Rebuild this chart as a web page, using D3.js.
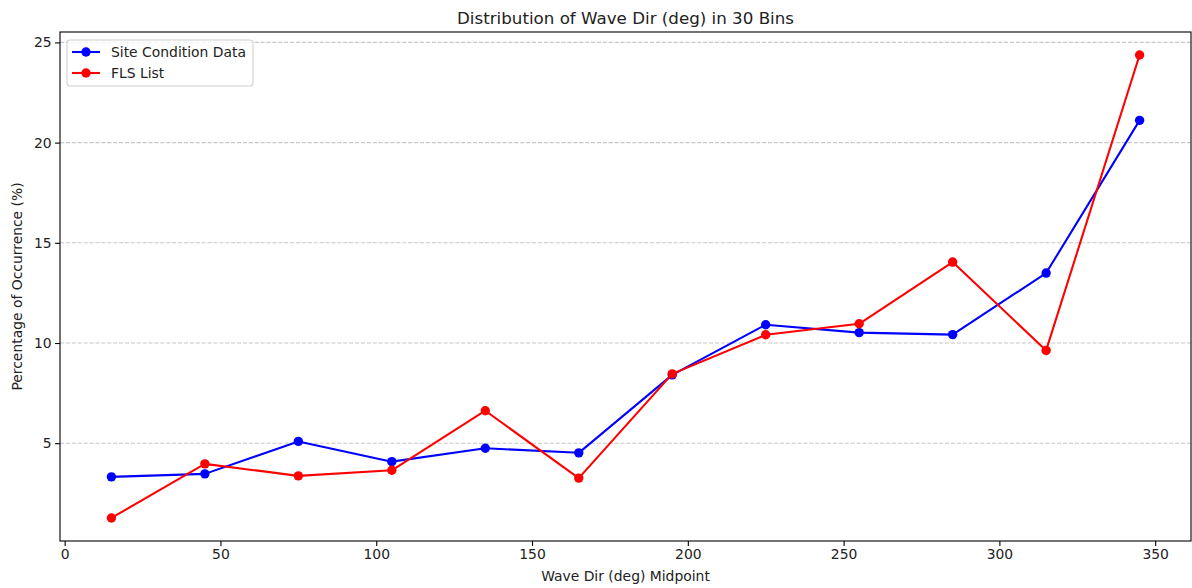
<!DOCTYPE html>
<html>
<head>
<meta charset="utf-8">
<script src="https://cdn.jsdelivr.net/npm/d3@7"></script>
<style>
  html, body { margin: 0; padding: 0; background: #fff; }
  svg { display: block; font-family: "DejaVu Sans", sans-serif; }
</style>
</head>
<body>
<div id="app"></div>
<script>
const width = 1192;
const height = 588;

// bin midpoints (deg)
const midpoints = [15, 45, 75, 105, 135, 165, 195, 225, 255, 285, 315, 345];
const siteCondition = [3.32, 3.47, 5.09, 4.08, 4.75, 4.52, 8.41, 10.91, 10.52, 10.42, 13.49, 21.11];
const flsList = [1.27, 3.97, 3.37, 3.65, 6.62, 3.26, 8.46, 10.41, 10.96, 14.04, 9.63, 24.37];
const seriesNames = ["Site Condition Data", "FLS List"];
const seriesColors = ["#0000ff", "#ff0000"];
const xTicks = [0, 50, 100, 150, 200, 250, 300, 350];
const yTicks = [5, 10, 15, 20, 25];

const margin = { top: 32, right: 1, bottom: 47, left: 60 };
const innerW = width - margin.left - margin.right;
const innerH = height - margin.top - margin.bottom;
const markerR = 4.7;

const svg = d3.select("#app").append("svg")
  .attr("width", width)
  .attr("height", height);

const x = d3.scaleLinear().domain([-1.5, 361.5]).range([0, innerW]);
const y = d3.scaleLinear().domain([0.12, 25.52]).range([innerH, 0]);

const g = svg.append("g")
  .attr("transform", `translate(${margin.left},${margin.top})`);

// horizontal grid
g.append("g")
  .selectAll("line")
  .data(yTicks)
  .join("line")
  .attr("x1", 0)
  .attr("x2", innerW)
  .attr("y1", d => y(d))
  .attr("y2", d => y(d))
  .attr("stroke", "#b0b0b0")
  .attr("stroke-opacity", 0.7)
  .attr("stroke-width", 1.1)
  .attr("stroke-dasharray", "4.1,1.8");

const xAxis = g.append("g")
  .attr("transform", `translate(0,${innerH})`)
  .call(d3.axisBottom(x).tickValues(xTicks).tickSize(4.9).tickPadding(3.5).tickFormat(d3.format("d")));
const yAxis = g.append("g")
  .call(d3.axisLeft(y).tickValues(yTicks).tickSize(4.9).tickPadding(3.5).tickFormat(d3.format("d")));

[xAxis, yAxis].forEach(a => {
  a.select(".domain").remove();
  a.selectAll(".tick line").attr("stroke", "#000").attr("stroke-width", 1.1);
  a.selectAll(".tick text")
    .attr("fill", "#222")
    .style("font-family", "DejaVu Sans")
    .style("font-size", "13.9px");
});

// spines
g.append("rect")
  .attr("width", innerW)
  .attr("height", innerH)
  .attr("fill", "none")
  .attr("stroke", "#000")
  .attr("stroke-width", 1.1);

const line = d3.line()
  .x((d, i) => x(midpoints[i]))
  .y(d => y(d));

[siteCondition, flsList].forEach((vals, s) => {
  const sg = g.append("g");
  sg.append("path")
    .datum(vals)
    .attr("fill", "none")
    .attr("stroke", seriesColors[s])
    .attr("stroke-width", 2.08)
    .attr("stroke-linejoin", "round")
    .attr("d", line);
  sg.selectAll("circle")
    .data(vals)
    .join("circle")
    .attr("cx", (d, i) => x(midpoints[i]))
    .attr("cy", d => y(d))
    .attr("r", markerR)
    .attr("fill", seriesColors[s]);
});

// legend
const legend = g.append("g").attr("transform", "translate(7,8)");
legend.append("rect")
  .attr("width", 186)
  .attr("height", 46)
  .attr("rx", 3)
  .attr("fill", "#fff")
  .attr("fill-opacity", 0.8)
  .attr("stroke", "#d0d0d0")
  .attr("stroke-width", 1.1);
seriesNames.forEach((name, i) => {
  const row = legend.append("g").attr("transform", `translate(0,${12 + i * 21})`);
  row.append("line")
    .attr("x1", 5).attr("x2", 33)
    .attr("stroke", seriesColors[i])
    .attr("stroke-width", 2.08);
  row.append("circle")
    .attr("cx", 19).attr("r", markerR)
    .attr("fill", seriesColors[i]);
  row.append("text")
    .attr("x", 44)
    .attr("dy", "0.35em")
    .attr("fill", "#222")
    .style("font-size", "13.9px")
    .text(name);
});

// title & labels
svg.append("text")
  .attr("x", margin.left + innerW / 2)
  .attr("y", 24)
  .attr("text-anchor", "middle")
  .attr("fill", "#222")
  .style("font-size", "16.7px")
  .text("Distribution of Wave Dir (deg) in 30 Bins");

svg.append("text")
  .attr("x", margin.left + innerW / 2)
  .attr("y", 581)
  .attr("text-anchor", "middle")
  .attr("fill", "#222")
  .style("font-size", "13.9px")
  .text("Wave Dir (deg) Midpoint");

svg.append("text")
  .attr("transform", `translate(22,${margin.top + innerH / 2}) rotate(-90)`)
  .attr("text-anchor", "middle")
  .attr("fill", "#222")
  .style("font-size", "13.9px")
  .text("Percentage of Occurrence (%)");
</script>
</body>
</html>
